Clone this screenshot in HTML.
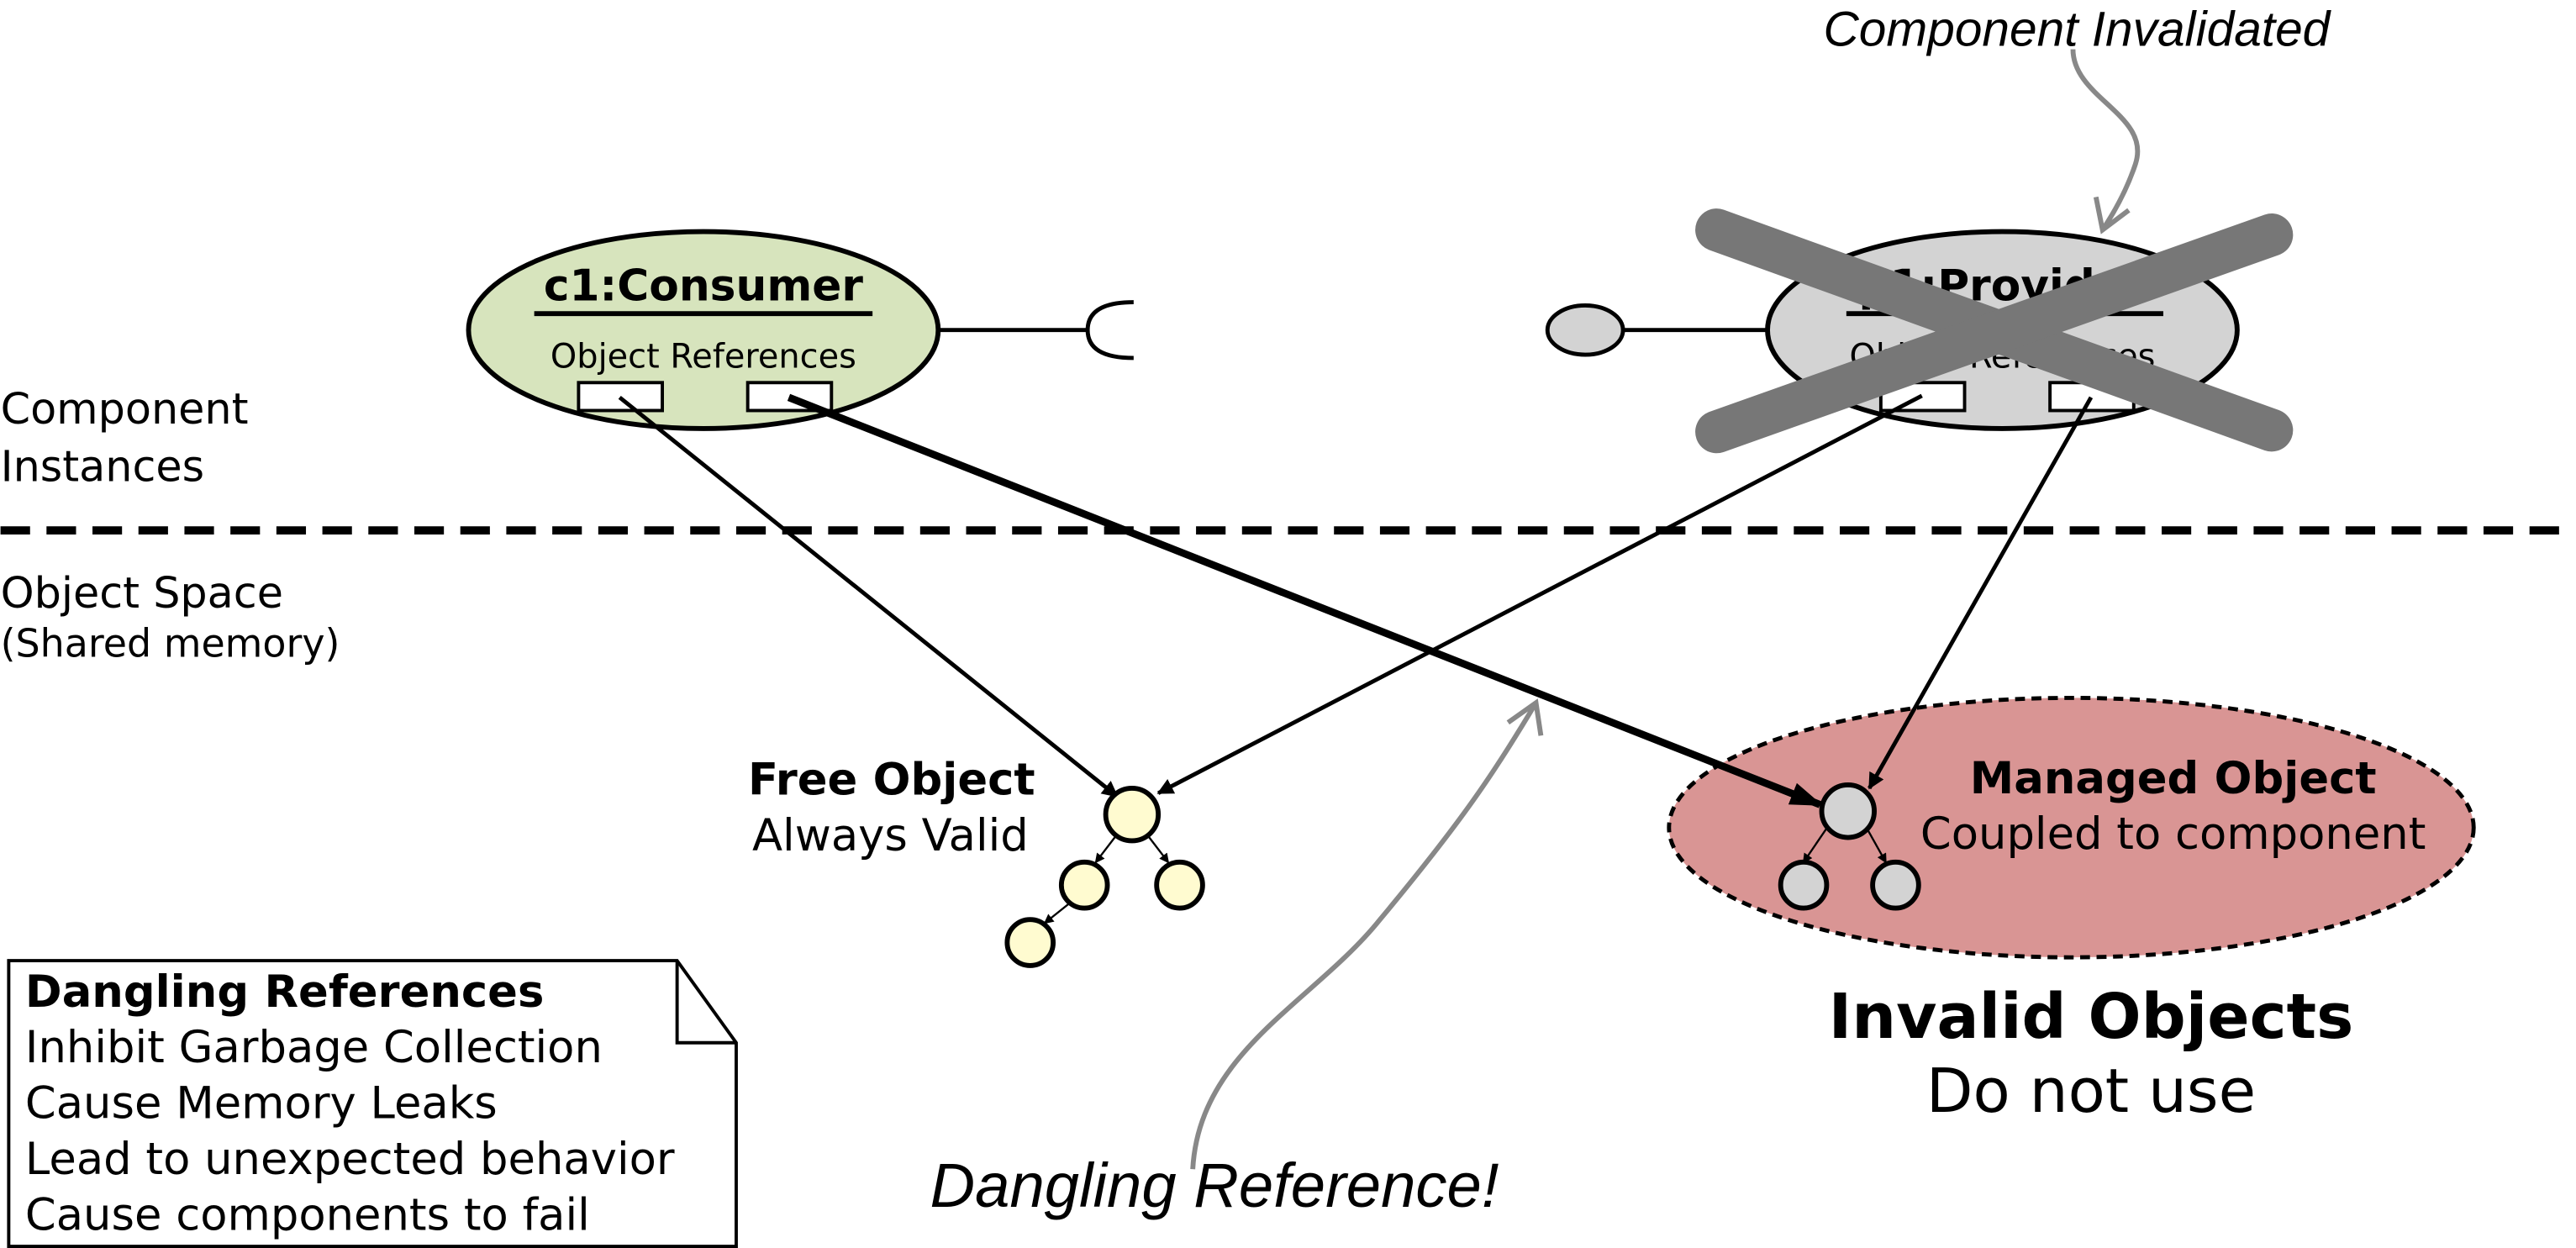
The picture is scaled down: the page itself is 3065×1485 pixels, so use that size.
<!DOCTYPE html>
<html><head><meta charset="utf-8"><style>html,body{margin:0;padding:0;background:#fff}svg{display:block}</style></head>
<body>
<svg width="3065" height="1485" viewBox="0 0 1568 760" xmlns="http://www.w3.org/2000/svg" font-family="'DejaVu Sans','Liberation Sans',sans-serif">
<defs>
<marker id="ah" markerWidth="10" markerHeight="10" refX="9" refY="5" orient="auto" markerUnits="userSpaceOnUse"><path d="M0,0 L18,5 L0,10 z" transform="scale(0.55,1)" fill="#000"/></marker>
<marker id="ah2" markerWidth="20" markerHeight="14" refX="18" refY="7" orient="auto" markerUnits="userSpaceOnUse"><path d="M0,0 L20,7 L0,14 z" fill="#000"/></marker>
<marker id="sm" markerWidth="6" markerHeight="6" refX="5" refY="3" orient="auto" markerUnits="userSpaceOnUse"><path d="M0,0 L6,3 L0,6 z" fill="#000"/></marker>
</defs>
<!-- Consumer -->
<ellipse cx="428" cy="201" rx="143" ry="60" fill="#d7e4bd" stroke="#000" stroke-width="3"/>
<text x="428" y="183" font-size="26.5" font-weight="bold" text-anchor="middle">c1:Consumer</text>
<line x1="325" y1="191" x2="531" y2="191" stroke="#000" stroke-width="3"/>
<text x="428" y="224" font-size="20.4" text-anchor="middle">Object References</text>
<rect x="352" y="233" width="51" height="17" fill="#fff" stroke="#000" stroke-width="2"/>
<rect x="455" y="233" width="51" height="17" fill="#fff" stroke="#000" stroke-width="2"/>
<line x1="571" y1="201" x2="662" y2="201" stroke="#000" stroke-width="2.5"/>
<path d="M690,184 Q662,184 662,201 Q662,218 690,218" fill="none" stroke="#000" stroke-width="2.5"/>
<!-- Provider -->
<line x1="988" y1="201" x2="1076" y2="201" stroke="#000" stroke-width="2.5"/>
<ellipse cx="965" cy="201" rx="23" ry="15" fill="#d3d3d3" stroke="#000" stroke-width="2.5"/>
<ellipse cx="1219" cy="201" rx="143" ry="60" fill="#d3d3d3" stroke="#000" stroke-width="3"/>
<text x="1219" y="183" font-size="26.5" font-weight="bold" text-anchor="middle">p1:Provider</text>
<line x1="1124" y1="191" x2="1317" y2="191" stroke="#000" stroke-width="3"/>
<text x="1219" y="224" font-size="20.4" text-anchor="middle">Object References</text>
<rect x="1145" y="233" width="51" height="17" fill="#fff" stroke="#000" stroke-width="2"/>
<rect x="1248" y="233" width="51" height="17" fill="#fff" stroke="#000" stroke-width="2"/>
<line x1="1045" y1="140" x2="1383" y2="262" stroke="#777" stroke-width="26" stroke-linecap="round"/>
<line x1="1383" y1="143" x2="1045" y2="263" stroke="#777" stroke-width="26" stroke-linecap="round"/>
<text x="1110" y="28" font-size="30" font-family="'Liberation Sans',sans-serif" font-style="italic">Component Invalidated</text>
<path d="M1262,30 C1262,60 1310,70 1300,100 C1295,115 1288,128 1280,140" fill="none" stroke="#888" stroke-width="3"/>
<path d="M1276,120 L1280,140 L1296,128" fill="none" stroke="#888" stroke-width="3"/>
<!-- divider -->
<line x1="0" y1="323" x2="1568" y2="323" stroke="#000" stroke-width="5" stroke-dasharray="18,10"/>
<text x="0" y="258" font-size="26">Component</text>
<text x="0" y="293" font-size="26">Instances</text>
<text x="0" y="370" font-size="26">Object Space</text>
<text x="0" y="400" font-size="23.5">(Shared memory)</text>
<!-- managed ellipse -->
<ellipse cx="1261" cy="504" rx="245" ry="79" fill="#d99594" stroke="#000" stroke-width="2.5" stroke-dasharray="6,4"/>
<!-- arrows -->
<line x1="377" y1="242" x2="680" y2="485" stroke="#000" stroke-width="2.5" marker-end="url(#ah)"/>
<line x1="1170" y1="241" x2="705" y2="483" stroke="#000" stroke-width="2.5" marker-end="url(#ah)"/>
<line x1="1273" y1="242" x2="1138" y2="480" stroke="#000" stroke-width="2.5" marker-end="url(#ah)"/>
<line x1="1115" y1="500" x2="1098" y2="525" stroke="#000" stroke-width="1.2" marker-end="url(#sm)"/>
<line x1="1134" y1="500" x2="1148" y2="525" stroke="#000" stroke-width="1.2" marker-end="url(#sm)"/>
<circle cx="1125" cy="494" r="16" fill="#d3d3d3" stroke="#000" stroke-width="3"/>
<circle cx="1098" cy="539" r="14" fill="#d3d3d3" stroke="#000" stroke-width="3"/>
<circle cx="1154" cy="539" r="14" fill="#d3d3d3" stroke="#000" stroke-width="3"/>
<line x1="480" y1="242" x2="1108" y2="490" stroke="#000" stroke-width="4.5" marker-end="url(#ah2)"/>
<text x="1323" y="483" font-size="27" font-weight="bold" text-anchor="middle">Managed Object</text>
<text x="1323" y="517" font-size="27" text-anchor="middle">Coupled to component</text>
<text x="1273" y="632" font-size="38" font-weight="bold" text-anchor="middle">Invalid Objects</text>
<text x="1273" y="677" font-size="37" text-anchor="middle">Do not use</text>
<!-- free -->
<line x1="680" y1="508" x2="667" y2="525" stroke="#000" stroke-width="1.2" marker-end="url(#sm)"/>
<line x1="698" y1="508" x2="711" y2="525" stroke="#000" stroke-width="1.2" marker-end="url(#sm)"/>
<line x1="651" y1="550" x2="636" y2="562" stroke="#000" stroke-width="1.2" marker-end="url(#sm)"/>
<circle cx="689" cy="496" r="16" fill="#fffbd0" stroke="#000" stroke-width="3"/>
<circle cx="660" cy="539" r="14" fill="#fffbd0" stroke="#000" stroke-width="3"/>
<circle cx="718" cy="539" r="14" fill="#fffbd0" stroke="#000" stroke-width="3"/>
<circle cx="627" cy="574" r="14" fill="#fffbd0" stroke="#000" stroke-width="3"/>
<text x="630" y="484" font-size="27" font-weight="bold" text-anchor="end">Free Object</text>
<text x="626" y="518" font-size="27" text-anchor="end">Always Valid</text>
<!-- note -->
<path d="M5,585 L412,585 L448,635 L448,759 L5,759 Z" fill="#fff" stroke="#000" stroke-width="2"/>
<path d="M412,585 L412,635 L448,635" fill="none" stroke="#000" stroke-width="2"/>
<text x="15" y="613" font-size="27" font-weight="bold">Dangling References</text>
<text x="15" y="647" font-size="27">Inhibit Garbage Collection</text>
<text x="15" y="681" font-size="27">Cause Memory Leaks</text>
<text x="15" y="715" font-size="27">Lead to unexpected behavior</text>
<text x="15" y="749" font-size="27">Cause components to fail</text>
<!-- dangling -->
<text x="566" y="735" font-size="38" font-family="'Liberation Sans',sans-serif" font-style="italic">Dangling Reference!</text>
<path d="M726,712 C730,640 800,610 840,560 C890,500 910,470 935,428" fill="none" stroke="#888" stroke-width="3"/>
<path d="M918,440 L935,428 L938,448" fill="none" stroke="#888" stroke-width="3"/>
</svg>
</body></html>
